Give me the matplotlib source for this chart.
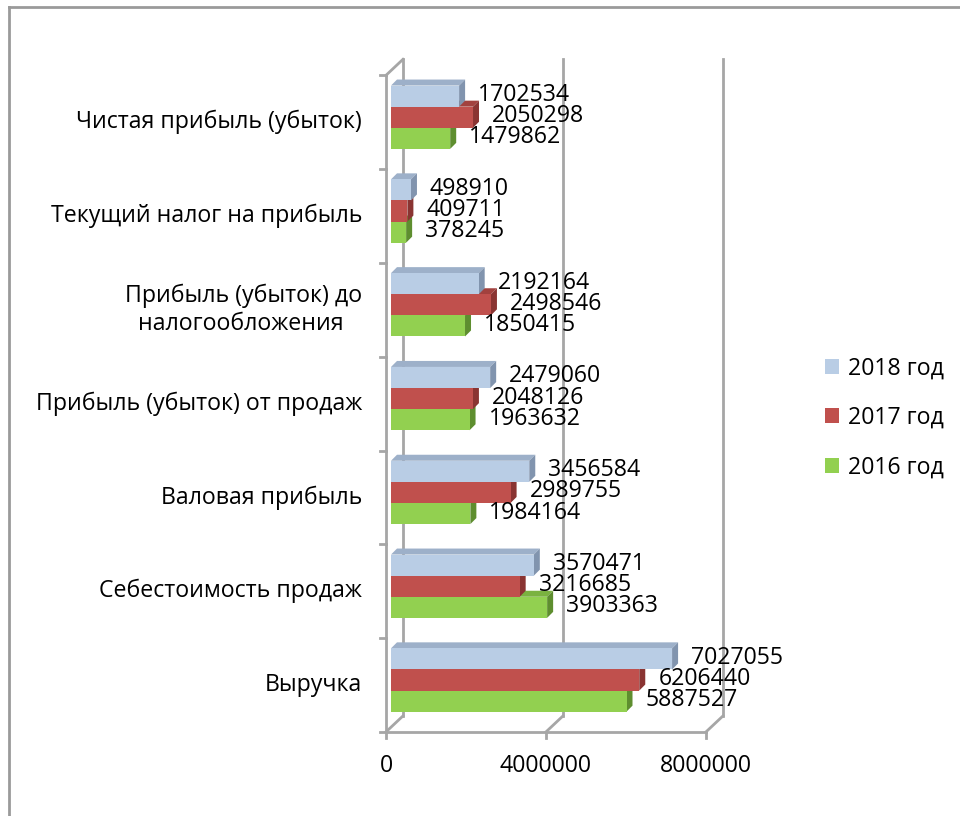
import matplotlib
matplotlib.use("Agg")
import matplotlib.pyplot as plt
from matplotlib.patches import Polygon, Patch
import matplotlib.transforms as mtransforms

plt.rcParams['font.family'] = ['Open Sans', 'DejaVu Sans']

# data (bottom to top)
categories = ["Выручка", "Себестоимость продаж", "Валовая прибыль",
              "Прибыль (убыток) от продаж", "Прибыль (убыток) до\nналогообложения ",
              "Текущий налог на прибыль", "Чистая прибыль (убыток)"]
y2016 = [5887527, 3903363, 1984164, 1963632, 1850415, 378245, 1479862]
y2017 = [6206440, 3216685, 2989755, 2048126, 2498546, 409711, 2050298]
y2018 = [7027055, 3570471, 3456584, 2479060, 2192164, 498910, 1702534]
series_names = ["2018 год", "2017 год", "2016 год"]
xticks = [0, 4000000, 8000000]

# colours: front, side, top
c_blue = ("#B9CDE5", "#8194AE", "#9DB0C9")
c_red = ("#C0504D", "#8A3432", "#A2413E")
c_green = ("#92D050", "#5E8E2F", "#7AB240")

FS = 16.7
GRID = "#A6A6A6"

fig = plt.figure(figsize=(9.6, 8.16), dpi=100)
ax = fig.add_axes([0, 0, 1, 1])
ax.set_xlim(-391 / 40 * 1e6, (960 - 391) / 40 * 1e6)
ax.set_ylim(-136 / 93.8, (816 - 136) / 93.8)
ax.axis("off")

# pixel -> data helpers for the bar depth
px_x = 1e6 / 40
px_y = 1 / 93.8
front = mtransforms.offset_copy(ax.transData, fig=fig, x=-5, y=-5, units="dots")
back = mtransforms.offset_copy(ax.transData, fig=fig, x=12, y=11, units="dots")

n = len(categories)
top = n - 0.5
bot = -0.5


def disp(tr, x, y):
    return tr.transform((x, y))


def seg(p1, p2, **kw):
    ax.plot([p1[0], p2[0]], [p1[1], p2[1]], transform=mtransforms.IdentityTransform(), **kw)


# back wall gridlines
for xv in xticks:
    ax.plot([xv, xv], [bot, top], transform=back, color=GRID, lw=2, zorder=1)
    seg(disp(front, xv, bot), disp(back, xv, bot), color=GRID, lw=2, zorder=1)
seg(disp(front, 0, top), disp(back, 0, top), color=GRID, lw=2, zorder=1)

# front axes
ax.plot([0, 0], [bot, top], transform=front, color=GRID, lw=2, zorder=1)
ax.plot([0, xticks[-1]], [bot, bot], transform=front, color=GRID, lw=2, zorder=1)
for i in range(n + 1):
    p = disp(front, 0, i - 0.5)
    seg(p, (p[0] - 6, p[1]), color=GRID, lw=2, zorder=1)
for xv in xticks:
    p = disp(front, xv, bot)
    seg(p, (p[0], p[1] - 6), color=GRID, lw=2, zorder=1)
    ax.annotate(f"{xv}", (xv, bot), xycoords=front, xytext=(0, -34),
                textcoords="offset pixels", ha="center", va="center", fontsize=FS)

# category labels
for i, name in enumerate(categories):
    ax.annotate(name, (0, i), xycoords=front, xytext=(-24, 0), textcoords="offset pixels",
                ha="right", va="center", multialignment="center", fontsize=FS)

# 3D bars
h = 0.225
dx = 6 * px_x
dy = 6 * px_y
order = [(y2016, c_green, -h), (y2017, c_red, 0.0), (y2018, c_blue, h)]
for i in range(n):
    for vals, col, off in order:
        v = vals[i]
        y0 = i + off - h / 2
        y1 = i + off + h / 2
        ax.add_patch(Polygon([(0, y1), (v, y1), (v + dx, y1 + dy), (dx, y1 + dy)],
                             closed=True, fc=col[2], ec="none", zorder=3))
        ax.add_patch(Polygon([(v, y0), (v, y1), (v + dx, y1 + dy), (v + dx, y0 + dy)],
                             closed=True, fc=col[1], ec="none", zorder=3))
        ax.barh(i + off, v, height=h, left=0, color=col[0], edgecolor="none", zorder=3)
        ax.annotate(f"{v}", (v, i + off), xytext=(19, 1), textcoords="offset pixels",
                    ha="left", va="center", fontsize=FS, zorder=5)

# legend
handles = [Patch(fc=c_blue[0]), Patch(fc=c_red[0]), Patch(fc=c_green[0])]
leg = fig.legend(handles, series_names, loc="center left",
                 bbox_to_anchor=(813 / 960, 1 - 418 / 816), frameon=False,
                 fontsize=FS, handlelength=0.62, handleheight=0.62,
                 handletextpad=0.4, labelspacing=1.1, borderpad=0)

# outer border (top and left visible)
fig.add_artist(plt.Line2D([8.5 / 960, 8.5 / 960], [0, 1 - 6.5 / 816],
                          transform=fig.transFigure, color="#9A9A9A", lw=2))
fig.add_artist(plt.Line2D([8.5 / 960, 1], [1 - 6.5 / 816, 1 - 6.5 / 816],
                          transform=fig.transFigure, color="#9A9A9A", lw=2))

fig.savefig("out.png", dpi=100)
